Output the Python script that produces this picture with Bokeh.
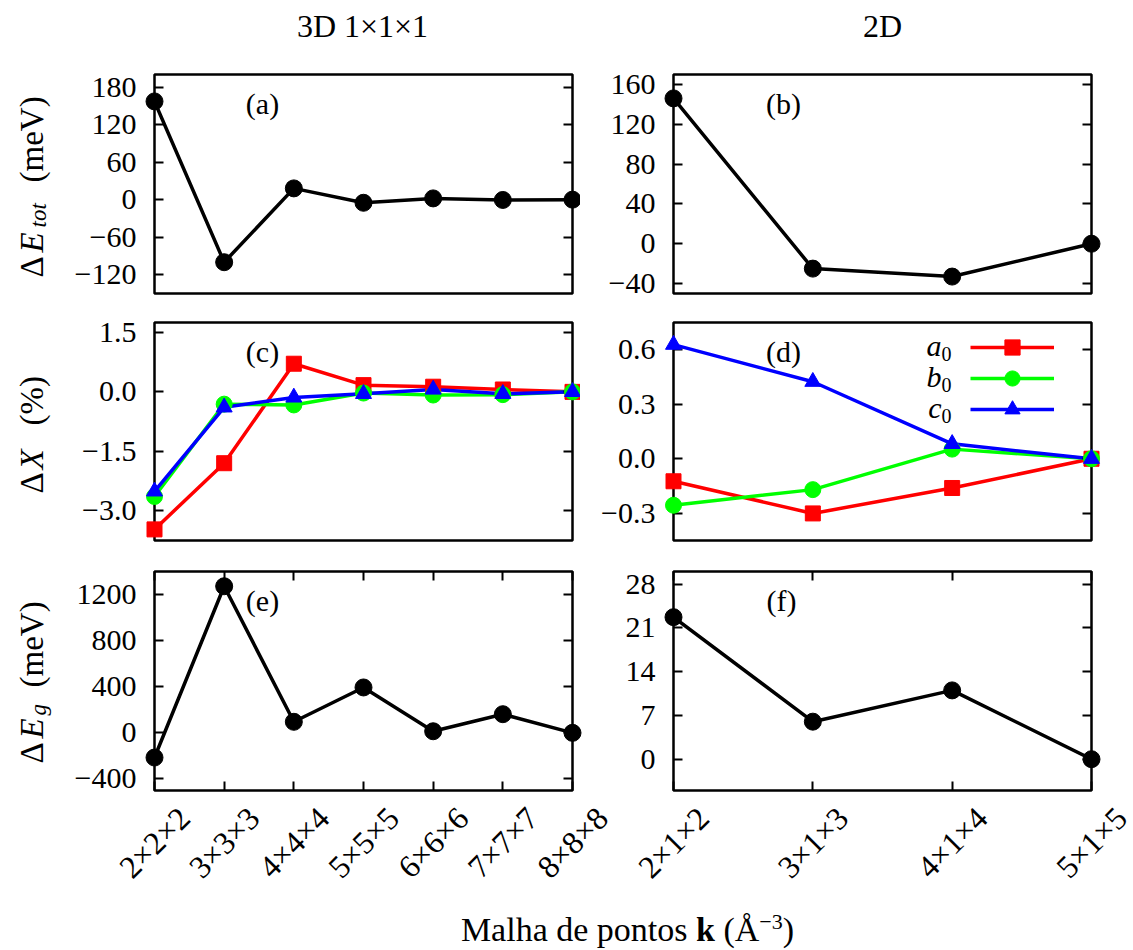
import numpy as np
from bokeh.plotting import figure
from bokeh.models import (Range1d, FixedTicker, LinearAxis, Label,
                          Legend, LegendItem, Div, CustomJSTickFormatter)
from bokeh.layouts import column, row
from bokeh.embed import file_html
from bokeh.resources import INLINE
from bokeh.core.properties import value

FONT = "Liberation Serif"
FONT_STACK = "'Liberation Serif', serif"

# k-point meshes
mesh_3d = ["2×2×2", "3×3×3", "4×4×4", "5×5×5", "6×6×6", "7×7×7", "8×8×8"]
mesh_2d = ["2×1×2", "3×1×3", "4×1×4", "5×1×5"]

# total energy relative to the densest mesh (meV)
dE_tot_3d = [157, -100, 18, -5, 2, -0.5, 0]
dE_tot_2d = [146, -25, -33, 0]

# lattice parameters relative to the densest mesh (%)
a0_3d = [-3.47, -1.80, 0.71, 0.17, 0.13, 0.06, 0.0]
b0_3d = [-2.64, -0.31, -0.33, -0.03, -0.08, -0.07, 0.0]
c0_3d = [-2.51, -0.39, -0.14, -0.05, 0.06, -0.05, 0.0]
a0_2d = [-0.124, -0.301, -0.161, 0.0]
b0_2d = [-0.256, -0.170, 0.053, 0.0]
c0_2d = [0.628, 0.424, 0.082, 0.0]

# band gap relative to the densest mesh (meV)
dEg_3d = [-214, 1272, 96, 394, 14, 162, 0]
dEg_2d = [22.7, 6.0, 11.0, 0.0]

# y ticks and their labels
yticks_a = [-120, -60, 0, 60, 120, 180]
ylabels_a = ["−120", "−60", "0", "60", "120", "180"]
yticks_b = [-40, 0, 40, 80, 120, 160]
ylabels_b = ["−40", "0", "40", "80", "120", "160"]
yticks_c = [-3.0, -1.5, 0.0, 1.5]
ylabels_c = ["−3.0", "−1.5", "0.0", "1.5"]
yticks_d = [-0.3, 0.0, 0.3, 0.6]
ylabels_d = ["−0.3", "0.0", "0.3", "0.6"]
yticks_e = [-400, 0, 400, 800, 1200]
ylabels_e = ["−400", "0", "400", "800", "1200"]
yticks_f = [0, 7, 14, 21, 28]
ylabels_f = ["0", "7", "14", "21", "28"]

series_names = ["a", "b", "c"]
series_colors = ["#ff0000", "#00ff00", "#0000ff"]
series_markers = ["square", "circle", "triangle"]
series_sizes = [15, 16, 16]

LINE_W = 3.5


class Frame:
    """Page-pixel geometry of a plot frame, used to place annotations."""

    def __init__(self, left, top, height, xr, yr, width=418):
        self.left, self.top, self.width, self.height = left, top, width, height
        self.xr, self.yr = xr, yr

    def dx(self, sx):
        return self.xr[0] + (sx - self.left) / self.width * (self.xr[1] - self.xr[0])

    def dy(self, sy):
        return self.yr[1] - (sy - self.top) / self.height * (self.yr[1] - self.yr[0])


fa = Frame(154, 74, 219, (0, 6), (-150, 200))
fb = Frame(673, 74, 219, (0, 3), (-50, 170))
fc = Frame(154, 322, 218, (0, 6), (-3.75, 1.75))
fd = Frame(673, 322, 218, (0, 3), (-0.45, 0.75))
fe = Frame(154, 571, 219, (0, 6), (-500, 1400))
ff = Frame(673, 571, 219, (0, 3), (-5, 30))


def style_axis(ax, show_labels):
    ax.axis_line_color = None
    ax.major_tick_in = 9
    ax.major_tick_out = 0
    ax.major_tick_line_width = 2
    ax.major_tick_line_color = "black"
    ax.minor_tick_line_color = None
    ax.major_label_text_font = FONT
    ax.major_label_text_font_size = "30px"
    ax.major_label_text_color = "black"
    ax.major_label_standoff = 18 if show_labels else 0
    if not show_labels:
        ax.formatter = CustomJSTickFormatter(code="return ''")


def make_panel(fr, borders, yticks, ylabels, n_cat, x_ticks=False):
    bl, br, bt, bb = borders
    p = figure(frame_width=fr.width, frame_height=fr.height,
               x_range=Range1d(*fr.xr), y_range=Range1d(*fr.yr),
               x_axis_location=None, y_axis_location=None,
               toolbar_location=None, output_backend="svg", title=None,
               min_border_left=bl, min_border_right=br,
               min_border_top=bt, min_border_bottom=bb)
    p.outline_line_color = "black"
    p.outline_line_width = 2.5
    p.grid.visible = False
    p.background_fill_color = "white"
    p.border_fill_color = "white"

    left = LinearAxis(ticker=FixedTicker(ticks=yticks),
                      major_label_overrides=dict(zip(yticks, ylabels)))
    style_axis(left, True)
    p.add_layout(left, "left")
    right = LinearAxis(ticker=FixedTicker(ticks=yticks))
    style_axis(right, False)
    p.add_layout(right, "right")

    if x_ticks:
        for side in ("below", "above"):
            ax = LinearAxis(ticker=FixedTicker(ticks=list(range(n_cat))))
            style_axis(ax, False)
            p.add_layout(ax, side)
    return p


def outer_text(p, xs, ys, texts, size=30, italic=False, angle=0.0,
               align="center", baseline="middle"):
    """Text drawn on the overlay level so it may sit in the plot borders."""
    p.text(x=xs, y=ys, text=texts, angle=angle, level="overlay",
           text_font=value(FONT_STACK), text_font_size=value(f"{size}px"),
           text_font_style=value("italic" if italic else "normal"),
           text_align=value(align), text_baseline=value(baseline),
           text_color="black")


def column_title(p, fr, text, sx):
    outer_text(p, [fr.dx(sx)], [fr.dy(25)], [text], size=32)


def panel_tag(p, fr, text, dx=108):
    p.add_layout(Label(x=fr.dx(fr.left + dx), y=fr.dy(fr.top + 29), text=text,
                       text_align="center", text_baseline="middle",
                       text_font=FONT, text_font_size="30px", text_color="black"))


def y_title(p, fr, y_start, parts, x_center=31):
    # parts: text, distance along the label, font size, italic, shift towards baseline
    for text, along, size, italic, shift in parts:
        outer_text(p, [fr.dx(x_center + shift)], [fr.dy(y_start - along)], [text],
                   size=size, italic=italic, angle=np.pi / 2, align="left")


def x_tick_labels(p, fr, labels):
    n = len(labels)
    outer_text(p, list(range(n)), [fr.dy(fr.top + fr.height + 52)] * n, labels,
               size=32, angle=np.pi / 4)


def black_series(p, ys):
    xs = list(range(len(ys)))
    p.line(xs, ys, line_color="black", line_width=LINE_W)
    p.scatter(xs, ys, marker="circle", size=17, color="black", level="overlay")


def lattice_series(p, data):
    out = []
    for ys, color, marker, size in zip(data, series_colors, series_markers, series_sizes):
        xs = list(range(len(ys)))
        ln = p.line(xs, ys, line_color=color, line_width=LINE_W)
        sc = p.scatter(xs, ys, marker=marker, size=size, color=color, level="overlay")
        out.append((ln, sc))
    return out


# ---- row 1: total energy
pa = make_panel(fa, (154, 8, 74, 14), yticks_a, ylabels_a, len(mesh_3d))
black_series(pa, dE_tot_3d)
panel_tag(pa, fa, "(a)")
column_title(pa, fa, "3D 1×1×1", 362)
y_title(pa, fa, 277, [("Δ", 0, 33, False, 0), ("E", 25, 33, True, 0),
                      ("tot", 50, 23, True, 7), ("(meV)", 95, 33, False, 0)])

pb = make_panel(fb, (93, 42, 74, 14), yticks_b, ylabels_b, len(mesh_2d))
black_series(pb, dE_tot_2d)
panel_tag(pb, fb, "(b)", dx=110)
column_title(pb, fb, "2D", 882)

# ---- row 2: lattice parameters
pc = make_panel(fc, (154, 8, 15, 16), yticks_c, ylabels_c, len(mesh_3d))
lattice_series(pc, [a0_3d, b0_3d, c0_3d])
panel_tag(pc, fc, "(c)")
y_title(pc, fc, 493, [("Δ", 0, 33, False, 0), ("X", 24, 33, True, 0),
                      ("(%)", 68, 33, False, 0)])

pd = make_panel(fd, (93, 42, 15, 16), yticks_d, ylabels_d, len(mesh_2d))
rd = lattice_series(pd, [a0_2d, b0_2d, c0_2d])
panel_tag(pd, fd, "(d)", dx=110)
# one legend per entry: sample line with marker, key text to its left
for i, (name, rends) in enumerate(zip(series_names, rd)):
    centre = 347 + 31 * i
    pd.add_layout(Legend(items=[LegendItem(label=" ", renderers=list(rends))],
                         location=(297, fd.top + fd.height - (centre + 19)),
                         glyph_width=84, glyph_height=38, spacing=0,
                         padding=0, margin=0, label_width=0, label_standoff=0,
                         border_line_color=None, background_fill_alpha=0))
    pd.add_layout(Label(x=fd.dx(941), y=fd.dy(centre - 2), text=name, text_align="right",
                        text_baseline="middle", text_font=FONT,
                        text_font_size="30px", text_font_style="italic",
                        text_color="black"))
    pd.add_layout(Label(x=fd.dx(941), y=fd.dy(centre + 6), text="0", text_align="left",
                        text_baseline="middle", text_font=FONT,
                        text_font_size="20px", text_color="black"))

# ---- row 3: band gap
pe = make_panel(fe, (154, 48, 15, 110), yticks_e, ylabels_e, len(mesh_3d), x_ticks=True)
black_series(pe, dEg_3d)
panel_tag(pe, fe, "(e)")
y_title(pe, fe, 763, [("Δ", 0, 33, False, 0), ("E", 25, 33, True, 0),
                      ("g", 48, 23, True, 7), ("(meV)", 76, 33, False, 0)])
x_tick_labels(pe, fe, mesh_3d)

pf = make_panel(ff, (53, 42, 15, 110), yticks_f, ylabels_f, len(mesh_2d), x_ticks=True)
black_series(pf, dEg_2d)
panel_tag(pf, ff, "(f)", dx=108)
x_tick_labels(pf, ff, mesh_2d)

xlabel = Div(
    text=("<div style=\"font-family:'Liberation Serif';font-size:34px;line-height:34px;"
          "width:1021px;margin-left:112px;text-align:center;padding-top:8px;color:black\">"
          "Malha de pontos <b>k</b> (Å<sup style=\"font-size:22px;line-height:0\">−3</sup>)"
          "</div>"),
    width=1133, height=50)

layout = column(row(pa, pb), row(pc, pd), row(pe, pf), xlabel)

with open("out.html", "w") as f:
    f.write(file_html(layout, INLINE))
